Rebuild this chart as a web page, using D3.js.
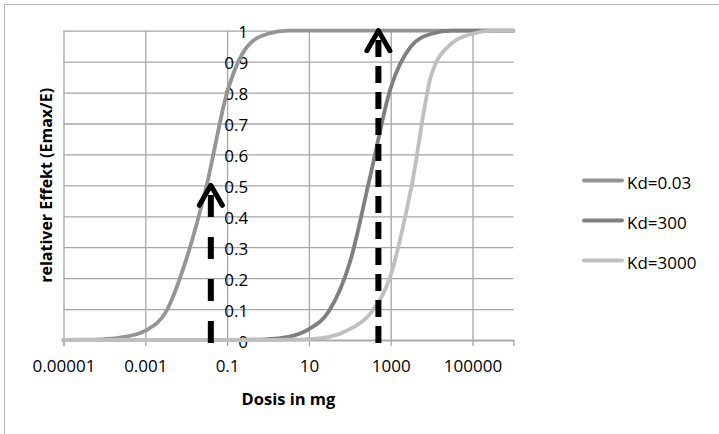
<!DOCTYPE html>
<html>
<head>
    <meta charset="utf-8">
    <script src="https://d3js.org/d3.v7.min.js"></script>
    <style>
        body { margin: 0; background: #fff; }
        text { font-family: "Open Sans", "Noto Sans", sans-serif; fill: #000; }
    </style>
</head>
<body>
<div id="chart"></div>
<script>
    // Dose steps (half decades) and relative effect
    const doses = [0.00001, 0.0000316, 0.0001, 0.000316, 0.001, 0.00316, 0.01, 0.0316, 0.1, 0.316,
                   1, 3.16, 10, 31.6, 100, 316, 1000, 3162, 10000, 31623, 100000, 316228, 1000000];
    const kd003  = [0, 0.001, 0.003, 0.01, 0.03, 0.09, 0.26, 0.5, 0.8, 0.95, 0.99, 1,
                    1, 1, 1, 1, 1, 1, 1, 1, 1, 1, 1];
    const kd300  = [0, 0, 0, 0, 0, 0, 0, 0, 0, 0.001, 0.003, 0.01,
                    0.035, 0.095, 0.25, 0.53, 0.815, 0.95, 0.99, 1, 1, 1, 1];
    const kd3000 = [0, 0, 0, 0, 0, 0, 0, 0, 0, 0, 0, 0.001,
                    0.003, 0.01, 0.035, 0.085, 0.21, 0.49, 0.86, 0.96, 0.99, 1, 1];

    const seriesNames = ['Kd=0.03', 'Kd=300', 'Kd=3000'];
    const seriesColors = ['#959595', '#7f7f7f', '#bfbfbf'];

    const xTicks = [0.00001, 0.001, 0.1, 10, 1000, 100000];
    const xTickLabels = ['0.00001', '0.001', '0.1', '10', '1000', '100000'];
    const yTicks = [0, 0.1, 0.2, 0.3, 0.4, 0.5, 0.6, 0.7, 0.8, 0.9, 1];

    // annotation arrows: dose position and value of the tip
    const arrowDoses = [0.04, 500];
    const arrowTops = [0.5, 1.0];
    const arrowDash = ['22,20', '17,9'];

    const width = 719, height = 434;
    const svg = d3.select('#chart').append('svg')
        .attr('width', width)
        .attr('height', height);

    // Outer chart frame
    svg.append('path')
        .attr('d', `M4.5,${height} L4.5,4.5 L${width},4.5`)
        .attr('fill', 'none')
        .attr('stroke', '#b5b5b5')
        .attr('stroke-width', 1);

    const x = d3.scaleLog().domain([0.00001, 1000000]).range([63.5, 513.4]);
    const y = d3.scaleLinear().domain([0, 1]).range([340, 30.7]);

    // Horizontal grid lines
    svg.append('g')
        .attr('transform', `translate(${x.range()[0]},0)`)
        .call(d3.axisLeft(y).tickValues(yTicks).tickSize(-(x.range()[1] - x.range()[0])).tickFormat(''))
        .call(g => g.select('.domain').remove())
        .call(g => g.selectAll('line').attr('stroke', '#a6a6a6').attr('stroke-width', 1.3));

    // Vertical grid lines
    svg.append('g')
        .attr('transform', `translate(0,${y(0)})`)
        .call(d3.axisBottom(x).tickValues(xTicks).tickSize(-(y(0) - y(1))).tickFormat(''))
        .call(g => g.select('.domain').remove())
        .call(g => g.selectAll('line').attr('stroke', '#a6a6a6').attr('stroke-width', 1.3));

    // X axis ticks and labels
    svg.append('g')
        .attr('transform', `translate(0,${y(0)})`)
        .call(d3.axisBottom(x).tickValues(xTicks).tickSize(6).tickPadding(14)
              .tickFormat((d, i) => xTickLabels[i]))
        .call(g => g.select('.domain').attr('stroke', '#a6a6a6').attr('stroke-width', 1.3))
        .call(g => g.selectAll('line').attr('stroke', '#a6a6a6').attr('stroke-width', 1.3))
        .call(g => g.selectAll('text').attr('font-size', 17).attr('font-family', null));

    // Y axis labels (axis crosses at 0.1)
    svg.append('g')
        .attr('transform', `translate(${x(0.1) + 21},0)`)
        .call(d3.axisLeft(y).tickValues(yTicks).tickSize(0).tickPadding(0)
              .tickFormat(d => String(d)))
        .call(g => g.select('.domain').remove())
        .call(g => g.selectAll('text').attr('font-size', 17).attr('font-family', null).attr('dy', '0.42em'));

    // Curves
    const allSeries = [kd003, kd300, kd3000];
    const line = d3.line()
        .x((d, i) => x(doses[i]))
        .y(d => y(d))
        .curve(d3.curveMonotoneX);

    allSeries.forEach((vals, k) => {
        svg.append('path')
            .attr('d', line(vals))
            .attr('fill', 'none')
            .attr('stroke', seriesColors[k])
            .attr('stroke-width', 3.8)
            .attr('stroke-linecap', 'round');
    });

    // Dashed arrows
    arrowDoses.forEach((dose, i) => {
        const ax = x(dose);
        const top = y(arrowTops[i]);
        svg.append('line')
            .attr('x1', ax).attr('x2', ax)
            .attr('y1', 343).attr('y2', top + 6)
            .attr('stroke', '#000')
            .attr('stroke-width', 6)
            .attr('stroke-dasharray', arrowDash[i]);
        svg.append('path')
            .attr('d', `M${ax - 11.5},${top + 20} L${ax},${top} L${ax + 11.5},${top + 20}`)
            .attr('fill', 'none')
            .attr('stroke', '#000')
            .attr('stroke-width', 5)
            .attr('stroke-linecap', 'round')
            .attr('stroke-linejoin', 'round');
    });

    // Axis titles
    svg.append('text')
        .attr('x', (x.range()[0] + x.range()[1]) / 2)
        .attr('y', 405)
        .attr('text-anchor', 'middle')
        .attr('font-size', 16.5)
        .attr('font-weight', 'bold')
        .text('Dosis in mg');

    svg.append('text')
        .attr('transform', `translate(52,${(y(0) + y(1)) / 2}) rotate(-90)`)
        .attr('text-anchor', 'middle')
        .attr('font-size', 16)
        .attr('font-weight', 'bold')
        .text('relativer Effekt (Emax/E)');

    // Legend
    seriesNames.forEach((name, i) => {
        const ly = 180.5 + i * 40;
        svg.append('line')
            .attr('x1', 584).attr('x2', 622)
            .attr('y1', ly).attr('y2', ly)
            .attr('stroke', seriesColors[i])
            .attr('stroke-width', 4)
            .attr('stroke-linecap', 'round');
        svg.append('text')
            .attr('x', 627)
            .attr('y', ly + 8)
            .attr('font-size', 17)
            .text(name);
    });
</script>
</body>
</html>
